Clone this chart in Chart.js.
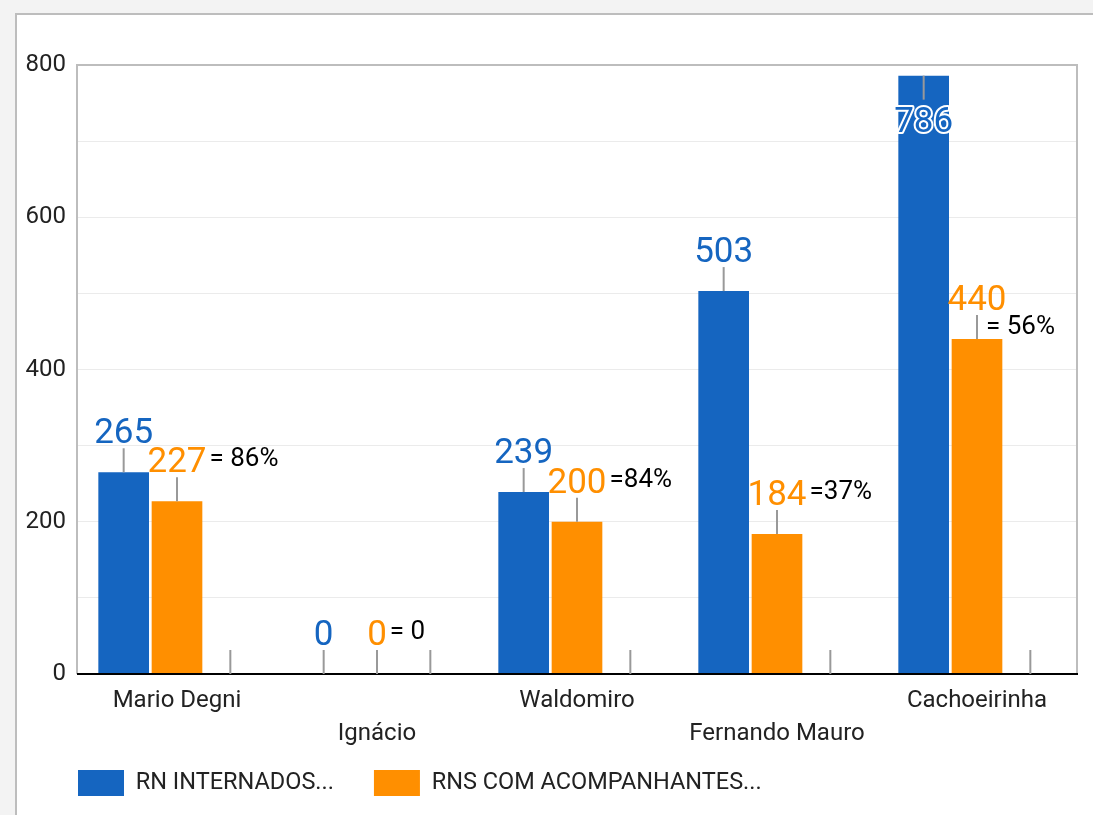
<!DOCTYPE html>
<html>
<head>
<meta charset="utf-8">
<script src="https://cdn.jsdelivr.net/npm/chart.js@4.4.1/dist/chart.umd.min.js"></script>
<style>
  html, body { margin: 0; padding: 0; background: #f3f3f3; overflow: hidden; }
  #card { position: absolute; left: 15px; top: 13px; width: 1200px; height: 900px; background: #fff; border: 2px solid #bdbdbd; }
  #wrap { position: absolute; left: 0; top: 0; width: 1093px; height: 815px; }
</style>
</head>
<body>
<div id="card"></div>
<div id="wrap"><canvas id="myChart"></canvas></div>
<script>
// dados do gráfico
const categories = ['Mario Degni', 'Ignácio', 'Waldomiro', 'Fernando Mauro', 'Cachoeirinha'];
const internados = [265, 0, 239, 503, 786];
const acompanhantes = [227, 0, 200, 184, 440];
const razao = [0, 0, 0, 0, 0];
const razaoLabels = ['= 86%', '= 0', '=84%', '=37%', '= 56%'];
const yTicks = [0, 200, 400, 600, 800];

const BLUE = '#1565c0';
const ORANGE = '#ff8f00';
const FONT = 'Roboto';

const ctx = document.getElementById('myChart').getContext('2d');

// ajustes de posição da legenda e da área dos rótulos do eixo x
const layoutFix = {
    id: 'layoutFix',
    afterLayout(chart) {
        const lg = chart.legend, x = chart.scales.x;
        x.bottom += 25;
        x.height += 25;
        lg.top -= 9;
        lg.bottom -= 9;
        lg.left += 38;
        lg.right += 38;
    }
};

// moldura da área do gráfico (cinza) + eixo x preto
const plotBox = {
    id: 'plotBox',
    beforeDatasetsDraw(chart) {
        const { ctx, chartArea: a } = chart;
        ctx.save();
        ctx.strokeStyle = '#bdbdbd';
        ctx.lineWidth = 2;
        ctx.beginPath();
        ctx.moveTo(a.left, a.bottom);
        ctx.lineTo(a.left, a.top);
        ctx.lineTo(a.right, a.top);
        ctx.lineTo(a.right, a.bottom);
        ctx.stroke();
        ctx.restore();
    },
    afterDatasetsDraw(chart) {
        const { ctx, chartArea: a } = chart;
        ctx.save();
        ctx.strokeStyle = '#000';
        ctx.lineWidth = 2;
        ctx.beginPath();
        ctx.moveTo(a.left, a.bottom);
        ctx.lineTo(a.right + 1, a.bottom);
        ctx.stroke();
        ctx.restore();
    }
};

// rótulos com haste (estilo anotação)
const annot = {
    id: 'annot',
    afterDatasetsDraw(chart) {
        const { ctx, chartArea: a } = chart;
        const stem = 24, gap = 5, capH = 25;
        const orangeBox = [];
        ctx.save();
        ctx.font = '35px ' + FONT;
        ctx.textAlign = 'center';
        ctx.textBaseline = 'alphabetic';
        ctx.lineJoin = 'round';
        [0, 1].forEach(d => {
            const ds = chart.data.datasets[d];
            chart.getDatasetMeta(d).data.forEach((bar, i) => {
                const txt = String(ds.data[i]);
                const inside = bar.y - stem - gap - capH < a.top;
                ctx.strokeStyle = '#999';
                ctx.lineWidth = 2;
                ctx.beginPath();
                ctx.moveTo(bar.x, bar.y);
                ctx.lineTo(bar.x, inside ? bar.y + stem : bar.y - stem);
                ctx.stroke();
                const base = inside ? bar.y + stem + gap + 2 + capH : bar.y - stem - gap;
                if (inside) {
                    ctx.strokeStyle = '#fff';
                    ctx.lineWidth = 4;
                    ctx.strokeText(txt, bar.x, base);
                }
                ctx.fillStyle = ds.backgroundColor;
                ctx.fillText(txt, bar.x, base);
                if (d === 1) {
                    orangeBox[i] = { right: bar.x + ctx.measureText(txt).width / 2, mid: base - capH / 2 };
                }
            });
        });
        // terceira série: haste na base + texto ao lado do rótulo laranja
        ctx.font = '26px ' + FONT;
        ctx.textAlign = 'left';
        ctx.textBaseline = 'middle';
        chart.getDatasetMeta(2).data.forEach((bar, i) => {
            ctx.strokeStyle = '#999';
            ctx.lineWidth = 2;
            ctx.beginPath();
            ctx.moveTo(bar.x, bar.y);
            ctx.lineTo(bar.x, bar.y - stem);
            ctx.stroke();
            const txt = razaoLabels[i];
            const w = ctx.measureText(txt).width;
            let tx = orangeBox[i].right + 3, ty = orangeBox[i].mid;
            if (tx + w > a.right - 20) {
                // não cabe: desce e encosta no rótulo laranja
                tx = a.right - 22 - w;
                ty += 30;
            }
            ctx.fillStyle = '#000';
            ctx.fillText(txt, tx, ty);
        });
        ctx.restore();
    }
};

const data = {
    labels: categories,
    datasets: [{
        label: 'RN INTERNADOS...',
        data: internados,
        backgroundColor: BLUE,
        borderWidth: 0
    },
    {
        label: 'RNS COM ACOMPANHANTES...',
        data: acompanhantes,
        backgroundColor: ORANGE,
        borderWidth: 0
    },
    {
        label: 'razao',
        data: razao,
        backgroundColor: 'rgba(0,0,0,0)',
        borderWidth: 0
    }]
};

const config = {
    type: 'bar',
    data: data,
    plugins: [layoutFix, plotBox, annot],
    options: {
        responsive: true,
        maintainAspectRatio: false,
        animation: false,
        layout: { padding: { left: 0, top: 65, right: 16, bottom: 0 } },
        datasets: { bar: { categoryPercentage: 0.8, barPercentage: 0.95 } },
        plugins: {
            tooltip: { enabled: false },
            legend: {
                position: 'bottom',
                align: 'start',
                labels: {
                    font: { family: FONT, size: 23.5 },
                    color: '#222',
                    boxWidth: 46,
                    boxHeight: 26,
                    padding: 40,
                    filter: item => item.datasetIndex < 2
                }
            }
        },
        scales: {
            x: {
                grid: { display: false, drawTicks: false },
                border: { display: false },
                ticks: {
                    font: { family: FONT, size: 24, lineHeight: 1.375 },
                    color: '#222',
                    padding: 10,
                    autoSkip: false,
                    maxRotation: 0,
                    callback: (v, i) => i % 2 ? ['', categories[i]] : categories[i]
                },
                afterFit: s => { s.height = 65; }
            },
            y: {
                min: yTicks[0],
                max: yTicks[yTicks.length - 1],
                grid: { color: '#ebebeb', drawTicks: false },
                border: { display: false },
                ticks: {
                    stepSize: 100,
                    font: { family: FONT, size: 24 },
                    color: '#222',
                    padding: 11,
                    callback: v => yTicks.includes(v) ? v : ''
                },
                afterFit: s => { s.width = 77; }
            }
        }
    }
};

const myChart = new Chart(ctx, config);
</script>
</body>
</html>
